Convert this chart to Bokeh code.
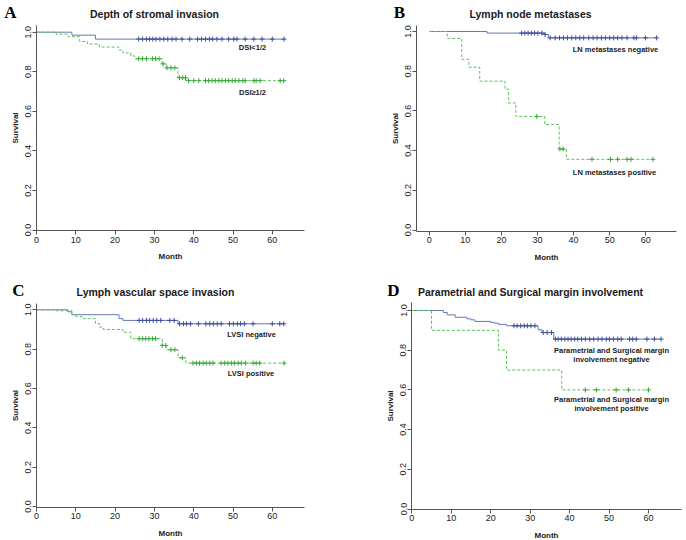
from bokeh.plotting import figure
from bokeh.layouts import column, row
from bokeh.models import Label, Range1d, FixedTicker
from bokeh.embed import file_html
from bokeh.resources import INLINE

# ---------------- data ----------------
x_ticks = [0, 10, 20, 30, 40, 50, 60]
y_ticks = [0.0, 0.2, 0.4, 0.6, 0.8, 1.0]
y_tick_labels = {0.0: "0.0", 0.2: "0.2", 0.4: "0.4", 0.6: "0.6", 0.8: "0.8", 1.0: "1.0"}

# Panel A: Depth of stromal invasion
a_neg_t = [9, 15]
a_neg_s = [0.985, 0.965]
a_neg_end = 63
a_neg_cens = [26, 27, 28, 28.8, 29.6, 30.4, 31.4, 32.4, 33.4, 34.5, 35.5, 37, 39, 41, 42, 43,
              44, 44.8, 45.9, 47.2, 48.9, 50.2, 51, 53.1, 55.3, 57.4, 60, 63]
a_pos_t = [5, 8, 11, 13, 16, 21, 22, 24, 25, 32, 33, 36, 38]
a_pos_s = [0.99, 0.977, 0.953, 0.94, 0.925, 0.91, 0.895, 0.88, 0.866, 0.84, 0.82, 0.77, 0.755]
a_pos_end = 63
a_pos_cens = [26, 27, 28, 29.5, 30.3, 31.2, 32.2, 33.2, 34.2, 35.2, 36.4, 37.2, 37.9, 38.7, 40,
              41.3, 43, 43.8, 44.7, 45.5, 46.4, 47.2, 48.1, 48.9, 49.8, 50.6, 51.5, 52.5, 53.1,
              55.3, 55.9, 56.9, 62, 62.9]

# Panel B: Lymph node metastases
b_neg_t = [16, 32, 33]
b_neg_s = [0.992, 0.985, 0.968]
b_neg_end = 63
b_neg_cens = [25.6, 26.5, 27.4, 28.3, 29.2, 30.1, 31.2, 32.1, 33.5, 34.9, 36.1, 37.2, 38.3,
              39.5, 40.6, 41.7, 42.8, 44.2, 45.4, 46.5, 47.7, 48.8, 50, 51.1, 52.2, 53.4,
              54.8, 56.7, 57.4, 59.9, 63]
b_pos_t = [5, 9, 11, 14, 21, 22, 24, 32, 36, 38]
b_pos_s = [0.965, 0.86, 0.82, 0.75, 0.71, 0.64, 0.572, 0.531, 0.408, 0.356]
b_pos_end = 62
b_pos_cens = [29.8, 36.2, 37.1, 45.1, 50.2, 52.2, 54.8, 55.9, 62]

# Panel C: Lymph vascular space invasion
c_neg_t = [8, 9, 21, 22, 36]
c_neg_s = [0.99, 0.975, 0.955, 0.946, 0.929]
c_neg_end = 63
c_neg_cens = [26.1, 27, 28, 28.8, 29.7, 30.6, 31.6, 33.9, 35, 36.4, 37.4, 38.2, 39.2, 41.2,
              43.1, 44.1, 45, 46, 47, 49.1, 50.1, 51.1, 51.9, 52.9, 55.1, 60, 61.9, 62.9]
c_pos_t = [5, 9, 10, 12, 15, 16, 17, 22, 24, 32, 33, 36, 38]
c_pos_s = [0.995, 0.975, 0.965, 0.955, 0.93, 0.912, 0.9, 0.886, 0.853, 0.819, 0.797, 0.756, 0.729]
c_pos_end = 63
c_pos_cens = [26.1, 27, 27.8, 28.6, 29.5, 30.3, 32, 32.9, 34.2, 35.2, 37.1, 39.8, 40.7, 41.5,
              42.4, 43.2, 44.1, 44.9, 47, 47.9, 48.7, 49.6, 50.4, 51.3, 52.1, 53.2, 55.1,
              55.9, 56.8, 63]

# Panel D: Parametrial and Surgical margin involvement
d_neg_t = [8, 9, 11, 14, 15, 16, 20, 21, 22, 24, 32, 33, 36]
d_neg_s = [0.99, 0.978, 0.966, 0.958, 0.953, 0.945, 0.94, 0.936, 0.93, 0.923, 0.903, 0.889, 0.856]
d_neg_end = 63
d_neg_cens = [25.9, 26.7, 27.6, 28.5, 29.3, 30.2, 31.2, 33.3, 34.3, 35.4, 36.4, 37.1, 37.9,
              38.8, 39.6, 40.4, 41.3, 42.1, 43, 44, 45.1, 46.1, 47.2, 48.2, 49.3, 50.1, 51.1,
              52.2, 53.1, 55.2, 56, 56.9, 59.6, 61.5, 63.2]
d_pos_t = [5, 22, 24, 38]
d_pos_s = [0.9, 0.8, 0.7, 0.6]
d_pos_end = 60
d_pos_cens = [44, 46.8, 51.8, 54.9, 60]

BLUE_LINE = "#6476b8"
BLUE_MARK = "#3d4f9e"
GREEN_LINE = "#5cc25c"
GREEN_MARK = "#3aa83a"
AXIS_COL = "#555555"
TEXT_COL = "#1a1a1a"
SANS = "Liberation Sans"
SERIF = "Liberation Serif"
W, H = 343, 270


def step_path(times, surv, end):
    xs, ys = [0.0], [1.0]
    prev = 1.0
    for t, s in zip(times, surv):
        xs += [t, t]
        ys += [prev, s]
        prev = s
    xs.append(end)
    ys.append(prev)
    return xs, ys


def surv_at(times, surv, t):
    val = 1.0
    for tt, s in zip(times, surv):
        if tt <= t:
            val = s
    return val


def make_panel(geo, title, title_pos, letter, letter_pos, curves, texts):
    # geo: page-pixel layout of the panel
    (ox, oy), x0px, ppm, y1px, y0px, (xa_l, xa_r), (ya_b, ya_t) = geo
    ppu = y0px - y1px

    def fx(px):
        return (px - x0px) / ppm

    def fy(py):
        return 1.0 - (py - y1px) / ppu

    p = figure(width=W, height=H, output_backend="svg", toolbar_location=None, title=None,
               x_range=Range1d(fx(ox), fx(ox + W)), y_range=Range1d(fy(oy + H), fy(oy)),
               min_border=0)
    p.outline_line_color = None
    p.grid.visible = False
    p.background_fill_color = "white"
    p.border_fill_color = "white"

    for ax in (p.xaxis[0], p.yaxis[0]):
        ax.axis_line_color = AXIS_COL
        ax.major_tick_line_color = AXIS_COL
        ax.minor_tick_line_color = None
        ax.major_tick_out = 4
        ax.major_tick_in = 0
        ax.major_label_text_font = SANS
        ax.major_label_text_font_size = "9px"
        ax.major_label_text_color = TEXT_COL
        ax.axis_label_text_font = SANS
        ax.axis_label_text_font_size = "8px"
        ax.axis_label_text_font_style = "bold"
        ax.axis_label_text_color = TEXT_COL
    p.xaxis.ticker = FixedTicker(ticks=x_ticks)
    p.yaxis.ticker = FixedTicker(ticks=y_ticks)
    p.yaxis.major_label_overrides = y_tick_labels
    p.yaxis.major_label_orientation = "vertical"
    p.xaxis.axis_label = "Month"
    p.yaxis.axis_label = "Survival"
    p.xaxis.fixed_location = fy(ya_b)
    p.yaxis.fixed_location = fx(xa_l)
    p.xaxis.bounds = (fx(xa_l), fx(xa_r))
    p.yaxis.bounds = (fy(ya_b), fy(ya_t))
    p.xaxis.major_label_standoff = 2
    p.xaxis.axis_label_standoff = 6
    p.yaxis.major_label_standoff = 1
    p.yaxis.axis_label_standoff = 3

    for (t, s, end, cens, lc, mc, dash) in curves:
        xs, ys = step_path(t, s, end)
        p.line(xs, ys, line_color=lc, line_width=1, line_dash=dash)
        cy = [surv_at(t, s, c) for c in cens]
        p.scatter(cens, cy, marker="cross", size=5, line_color=mc, line_width=1)

    p.add_layout(Label(x=fx(title_pos[0]), y=fy(title_pos[1]), text=title, text_font=SANS,
                       text_font_size="10.5px", text_font_style="bold", text_color=TEXT_COL,
                       text_align="center", text_baseline="middle"))
    p.add_layout(Label(x=fx(letter_pos[0]), y=fy(letter_pos[1]), text=letter, text_font=SERIF,
                       text_font_size="17px", text_font_style="bold", text_color="black",
                       text_align="center", text_baseline="middle"))
    for (tx, ty, txt) in texts:
        p.add_layout(Label(x=fx(tx), y=fy(ty), text=txt, text_font=SANS, text_font_size="7.5px",
                           text_font_style="bold", text_color=TEXT_COL,
                           text_align="center", text_baseline="middle"))
    return p


geoA = ((0, 0), 36, 3.93, 31.7, 229.5, (35.5, 304), (230, 25))
geoB = ((343, 0), 428.7, 3.61, 31, 229.5, (415.5, 676), (230.7, 25))
geoC = ((0, 270), 36, 3.93, 309.3, 506, (35.7, 304), (506.7, 303))
geoD = ((343, 270), 411.3, 3.945, 310, 508.5, (411, 681), (508.5, 302))

pA = make_panel(geoA, "Depth of stromal invasion", (154, 13), "A", (10, 11.5),
                [(a_neg_t, a_neg_s, a_neg_end, a_neg_cens, BLUE_LINE, BLUE_MARK, "solid"),
                 (a_pos_t, a_pos_s, a_pos_end, a_pos_cens, GREEN_LINE, GREEN_MARK, "3 2")],
                [(252, 46.5, "DSI<1/2"), (252, 91.7, "DSI≥1/2")])

pB = make_panel(geoB, "Lymph node metastases", (530, 13), "B", (399, 11.5),
                [(b_neg_t, b_neg_s, b_neg_end, b_neg_cens, BLUE_LINE, BLUE_MARK, "solid"),
                 (b_pos_t, b_pos_s, b_pos_end, b_pos_cens, GREEN_LINE, GREEN_MARK, "3 2")],
                [(615, 48.7, "LN metastases negative"), (614, 171.7, "LN metastases positive")])

pC = make_panel(geoC, "Lymph vascular space invasion", (155, 291.5), "C", (18, 290),
                [(c_neg_t, c_neg_s, c_neg_end, c_neg_cens, BLUE_LINE, BLUE_MARK, "solid"),
                 (c_pos_t, c_pos_s, c_pos_end, c_pos_cens, GREEN_LINE, GREEN_MARK, "3 2")],
                [(251, 333.7, "LVSI negative"), (250.5, 372.7, "LVSI positive")])

pD = make_panel(geoD, "Parametrial and Surgical margin involvement", (530, 291), "D", (393, 290),
                [(d_neg_t, d_neg_s, d_neg_end, d_neg_cens, BLUE_LINE, BLUE_MARK, "solid"),
                 (d_pos_t, d_pos_s, d_pos_end, d_pos_cens, GREEN_LINE, GREEN_MARK, "3 2")],
                [(611, 350, "Parametrial and Surgical margin"),
                 (611, 358.7, "involvement negative"),
                 (611, 399, "Parametrial and Surgical margin"),
                 (611, 407.5, "involvement positive")])

layout = column(row(pA, pB), row(pC, pD))
open("out.html", "w").write(file_html(layout, INLINE))
